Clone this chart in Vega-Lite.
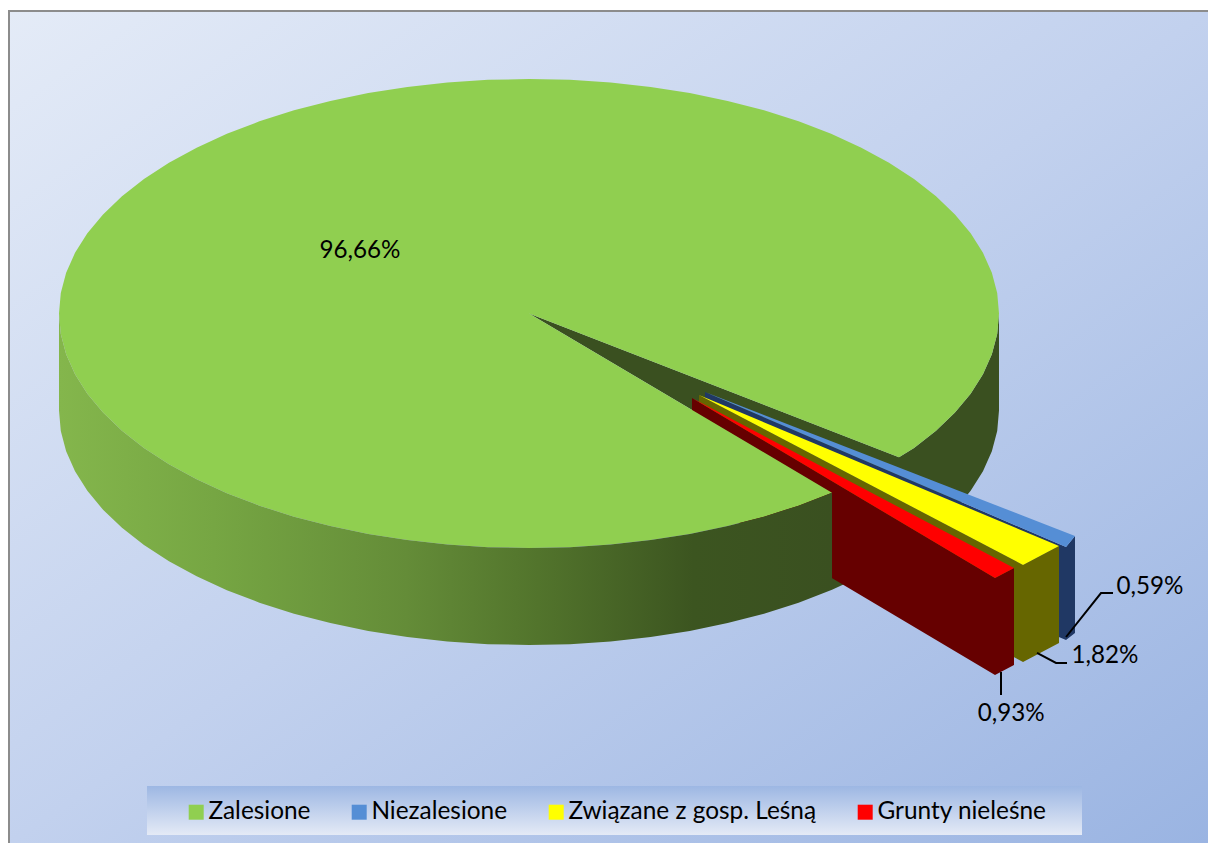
{"$schema":"https://vega.github.io/schema/vega-lite/v6.json","width":1200,"height":833,"autosize":{"type":"none"},"padding":{"left":9,"top":11,"right":0,"bottom":0},"background":"#ffffff","view":{"stroke":"#8c8c8c","strokeWidth":2,"fill":{"gradient":"linear","x1":0,"y1":0,"x2":1,"y2":1,"stops":[{"offset":0,"color":"#e4ebf7"},{"offset":0.5,"color":"#c2d1ee"},{"offset":1,"color":"#9ab4e2"}]}},"projection":{"type":"identity","reflectY":true,"scale":4.7,"translate":[520,302.5]},"datasets":{"faces":[{"face":"legendband","category":"","share":null,"geo":{"type":"Polygon","coordinates":[[[-81.28,-100.53],[117.66,-100.53],[117.66,-110.96],[-81.28,-110.96],[-81.28,-100.53]]]}},{"face":"back","category":"Zalesione","share":96.66,"geo":{"type":"Polygon","coordinates":[[[0,0],[78.72,-30.6],[81.92,-28.62],[86.6,-24.95],[90.63,-21.09],[93.97,-17.07],[96.59,-12.91],[98.48,-8.67],[99.62,-4.35],[100,0],[100,-20.64],[99.62,-24.99],[98.48,-29.31],[96.59,-33.55],[93.97,-37.71],[90.63,-41.73],[86.6,-45.59],[81.92,-49.26],[76.6,-52.72],[70.71,-55.92],[64.47,-58.77],[64.47,-38.13],[0,0]]]}},{"face":"wall","category":"Niezalesione","share":0.59,"geo":{"type":"Polygon","coordinates":[[[37.45,-16.7],[114.26,-49.68],[116.17,-47.34],[116.17,-67.98],[114.26,-69.47],[37.45,-37.34],[37.45,-16.7]]]}},{"face":"wall","category":"Związane z gosp. Leśną","share":1.82,"geo":{"type":"Polygon","coordinates":[[[36.17,-17.34],[105.11,-53.51],[112.77,-49.47],[112.77,-70.11],[105.11,-74.15],[36.17,-37.98],[36.17,-17.34]]]}},{"face":"wall","category":"Grunty nieleśne","share":0.93,"geo":{"type":"Polygon","coordinates":[[[34.68,-17.98],[99.15,-56.28],[103.19,-54.15],[103.19,-74.79],[99.15,-76.92],[34.68,-38.62],[34.68,-17.98]]]}},{"face":"top","category":"Zalesione","share":96.66,"geo":{"type":"Polygon","coordinates":[[[0,0],[78.72,-30.6],[81.92,-28.62],[86.6,-24.95],[90.63,-21.09],[93.97,-17.07],[96.59,-12.91],[98.48,-8.67],[99.62,-4.35],[100,0],[99.62,4.35],[98.48,8.67],[96.59,12.91],[93.97,17.07],[90.63,21.09],[86.6,24.95],[81.92,28.62],[76.6,32.08],[70.71,35.28],[64.28,38.23],[57.36,40.88],[50,43.22],[42.26,45.22],[34.2,46.89],[25.88,48.2],[17.36,49.14],[8.72,49.71],[0,49.9],[-8.72,49.71],[-17.36,49.14],[-25.88,48.2],[-34.2,46.89],[-42.26,45.22],[-50,43.22],[-57.36,40.88],[-64.28,38.23],[-70.71,35.28],[-76.6,32.08],[-81.92,28.62],[-86.6,24.95],[-90.63,21.09],[-93.97,17.07],[-96.59,12.91],[-98.48,8.67],[-99.62,4.35],[-100,0],[-99.62,-4.35],[-98.48,-8.67],[-96.59,-12.91],[-93.97,-17.07],[-90.63,-21.09],[-86.6,-24.95],[-81.92,-28.62],[-76.6,-32.08],[-70.71,-35.28],[-64.28,-38.23],[-57.36,-40.88],[-50,-43.22],[-42.26,-45.22],[-34.2,-46.89],[-25.88,-48.2],[-17.36,-49.14],[-8.72,-49.71],[0,-49.9],[8.72,-49.71],[17.36,-49.14],[25.88,-48.2],[34.2,-46.89],[42.26,-45.22],[50,-43.22],[57.36,-40.88],[64.47,-38.13],[0,0]]]}},{"face":"top","category":"Niezalesione","share":0.59,"geo":{"type":"Polygon","coordinates":[[[37.45,-16.7],[116.17,-47.34],[114.26,-49.68],[37.45,-16.7]]]}},{"face":"top","category":"Związane z gosp. Leśną","share":1.82,"geo":{"type":"Polygon","coordinates":[[[36.17,-17.34],[112.77,-49.47],[105.11,-53.51],[36.17,-17.34]]]}},{"face":"top","category":"Grunty nieleśne","share":0.93,"geo":{"type":"Polygon","coordinates":[[[34.68,-17.98],[103.19,-54.15],[99.15,-56.28],[34.68,-17.98]]]}},{"face":"front","category":"Zalesione","share":96.66,"geo":{"type":"Polygon","coordinates":[[[-100,0],[-99.62,-4.35],[-98.48,-8.67],[-96.59,-12.91],[-93.97,-17.07],[-90.63,-21.09],[-86.6,-24.95],[-81.92,-28.62],[-76.6,-32.08],[-70.71,-35.28],[-64.28,-38.23],[-57.36,-40.88],[-50,-43.22],[-42.26,-45.22],[-34.2,-46.89],[-25.88,-48.2],[-17.36,-49.14],[-8.72,-49.71],[0,-49.9],[8.72,-49.71],[17.36,-49.14],[25.88,-48.2],[34.2,-46.89],[42.26,-45.22],[50,-43.22],[57.36,-40.88],[64.47,-38.13],[64.47,-58.77],[57.36,-61.52],[50,-63.86],[42.26,-65.86],[34.2,-67.53],[25.88,-68.84],[17.36,-69.78],[8.72,-70.35],[0,-70.54],[-8.72,-70.35],[-17.36,-69.78],[-25.88,-68.84],[-34.2,-67.53],[-42.26,-65.86],[-50,-63.86],[-57.36,-61.52],[-64.28,-58.87],[-70.71,-55.92],[-76.6,-52.72],[-81.92,-49.26],[-86.6,-45.59],[-90.63,-41.73],[-93.97,-37.71],[-96.59,-33.55],[-98.48,-29.31],[-99.62,-24.99],[-100,-20.64],[-100,0]]]}},{"face":"leader","category":"Niezalesione","share":0.59,"geo":{"type":"LineString","coordinates":[[114.26,-68.83],[121.7,-59.47],[124.26,-59.47]]}},{"face":"leader","category":"Związane z gosp. Leśną","share":1.82,"geo":{"type":"LineString","coordinates":[[108.09,-72.23],[112.13,-74.36],[114.47,-74.36]]}},{"face":"leader","category":"Grunty nieleśne","share":0.93,"geo":{"type":"LineString","coordinates":[[100.43,-76.28],[100.43,-81.17]]}}],"labels":[{"category":"Zalesione","label":"96,66%","lon":-35.96,"lat":13.4},{"category":"Niezalesione","label":"0,59%","lon":132.1,"lat":-58.2},{"category":"Związane z gosp. Leśną","label":"1,82%","lon":122.55,"lat":-72.9},{"category":"Grunty nieleśne","label":"0,93%","lon":102.6,"lat":-85.2}]},"layer":[{"data":{"name":"faces"},"transform":[{"filter":"datum.face==='legendband'"}],"mark":{"type":"geoshape","stroke":null,"fill":{"gradient":"linear","x1":0,"y1":0,"x2":0,"y2":1,"stops":[{"offset":0,"color":"#9db7e3"},{"offset":1,"color":"#e4eaf6"}]}},"encoding":{"shape":{"field":"geo","type":"geojson"}}},{"data":{"name":"faces"},"transform":[{"filter":"datum.face==='back'"}],"mark":{"type":"geoshape","stroke":null,"fill":"#3a5020"},"encoding":{"shape":{"field":"geo","type":"geojson"}}},{"data":{"name":"faces"},"transform":[{"filter":"datum.face==='wall'"}],"mark":{"type":"geoshape","stroke":null},"encoding":{"shape":{"field":"geo","type":"geojson"},"color":{"field":"category","type":"nominal","legend":null,"scale":{"domain":["Niezalesione","Związane z gosp. Leśną","Grunty nieleśne"],"range":["#203864","#666600","#660000"]}}}},{"data":{"name":"faces"},"transform":[{"filter":"datum.face==='top'"}],"mark":{"type":"geoshape","stroke":null},"encoding":{"shape":{"field":"geo","type":"geojson"},"color":{"field":"category","type":"nominal","scale":{"domain":["Zalesione","Niezalesione","Związane z gosp. Leśną","Grunty nieleśne"],"range":["#90cf50","#558ed5","#ffff00","#ff0000"]},"legend":{"title":null,"orient":"none","legendX":175,"legendY":789,"direction":"horizontal","columns":4,"gridAlign":"none","columnPadding":36,"symbolType":"square","symbolSize":225,"symbolStrokeWidth":0,"labelFont":"Lato","labelFontSize":24.4,"labelColor":"#000000","labelOffset":0,"labelLimit":400,"padding":0}}}},{"data":{"name":"faces"},"transform":[{"filter":"datum.face==='front'"}],"mark":{"type":"geoshape","stroke":null,"fill":{"gradient":"linear","x1":0,"y1":0,"x2":1,"y2":0,"stops":[{"offset":0,"color":"#84b64c"},{"offset":0.2,"color":"#76a643"},{"offset":0.45,"color":"#648c38"},{"offset":0.62,"color":"#52742c"},{"offset":0.82,"color":"#3c5520"},{"offset":1,"color":"#3a5020"}]}},"encoding":{"shape":{"field":"geo","type":"geojson"}}},{"data":{"name":"faces"},"transform":[{"filter":"datum.face==='leader'"}],"mark":{"type":"geoshape","filled":false,"stroke":"#000000","strokeWidth":2},"encoding":{"shape":{"field":"geo","type":"geojson"}}},{"data":{"name":"labels"},"mark":{"type":"text","font":"Lato","fontSize":24.2,"color":"#000000","align":"center","baseline":"middle"},"encoding":{"longitude":{"field":"lon","type":"quantitative"},"latitude":{"field":"lat","type":"quantitative"},"text":{"field":"label","type":"nominal"}}}],"resolve":{"scale":{"color":"independent"},"legend":{"color":"independent"}}}
